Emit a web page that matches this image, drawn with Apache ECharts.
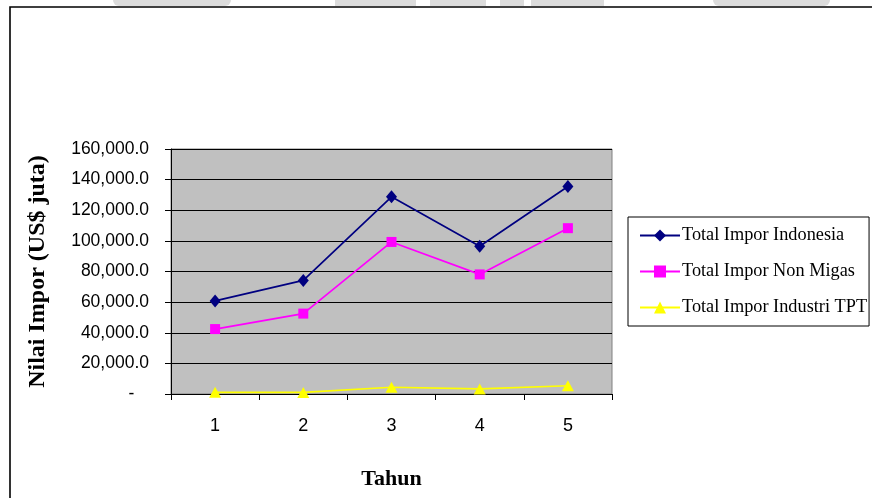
<!DOCTYPE html>
<html>
<head>
<meta charset="utf-8">
<script src="https://cdn.jsdelivr.net/npm/echarts@6/dist/echarts.min.js"></script>
<style>
  html, body { margin: 0; padding: 0; background: #ffffff; }
  #chart { width: 872px; height: 498px; }
</style>
</head>
<body>
<div id="chart"></div>
<script>
// Tahun (year index) and import values in US$ juta
const years = ['1', '2', '3', '4', '5'];
const seriesNames = ['Total Impor Indonesia', 'Total Impor Non Migas', 'Total Impor Industri TPT'];
const imporIndonesia = [60800, 74200, 128800, 96500, 135500];
const imporNonMigas = [42400, 52500, 99300, 78100, 108300];
const imporTPT = [1100, 1000, 4400, 3300, 5400];
const yTicks = { min: 0, max: 160000, step: 20000 };

const serif = '"Liberation Serif", "Times New Roman", serif';
const sans = '"Liberation Sans", Arial, sans-serif';

function fmtValue(v) {
  if (v === 0) return '-   ';
  return v.toLocaleString('en-US', { minimumFractionDigits: 1, maximumFractionDigits: 1 });
}

const chart = echarts.init(document.getElementById('chart'), null, { renderer: 'canvas' });

const lineSeries = (name, data, color, symbol, size) => ({
  name: name,
  type: 'line',
  data: data,
  symbol: symbol,
  symbolSize: size,
  showAllSymbol: true,
  lineStyle: { color: color, width: 1.7 },
  itemStyle: { color: color },
  emphasis: { disabled: true },
  animation: false,
  z: 3
});

chart.setOption({
  backgroundColor: '#ffffff',
  animation: false,
  graphic: [
    // faint letterhead marks along the top edge
    { type: 'rect', shape: { x: 113, y: 0, width: 118, height: 6, r: [0, 0, 6, 6] }, style: { fill: '#dcdcdc' }, silent: true },
    { type: 'rect', shape: { x: 335, y: 0, width: 81, height: 6 }, style: { fill: '#dcdcdc' }, silent: true },
    { type: 'rect', shape: { x: 430, y: 0, width: 56, height: 6 }, style: { fill: '#dcdcdc' }, silent: true },
    { type: 'rect', shape: { x: 500, y: 0, width: 24, height: 6 }, style: { fill: '#dcdcdc' }, silent: true },
    { type: 'rect', shape: { x: 531, y: 0, width: 73, height: 6 }, style: { fill: '#dcdcdc' }, silent: true },
    { type: 'rect', shape: { x: 713, y: 0, width: 117, height: 6, r: [0, 0, 6, 6] }, style: { fill: '#dcdcdc' }, silent: true },
    // chart frame
    { type: 'rect', shape: { x: 10, y: 7, width: 900, height: 600 }, style: { fill: 'none', stroke: '#000000', lineWidth: 1.6 }, silent: true }
  ],
  grid: {
    left: 171, top: 149, right: 260, bottom: 104,
    show: true,
    backgroundColor: '#c0c0c0',
    borderColor: '#808080',
    borderWidth: 1
  },
  legend: {
    data: seriesNames,
    orient: 'vertical',
    left: 628,
    top: 217,
    padding: [8, 2, 8, 11],
    itemGap: 15,
    itemWidth: 40,
    itemHeight: 15,
    borderColor: '#000000',
    borderWidth: 1,
    backgroundColor: '#ffffff',
    selectedMode: false,
    textStyle: { fontFamily: serif, fontSize: 18.3, color: '#000000', lineHeight: 21, padding: [0, 0, 0, -3] }
  },
  xAxis: {
    type: 'category',
    data: years,
    boundaryGap: true,
    name: 'Tahun',
    nameLocation: 'middle',
    nameGap: 74,
    nameTextStyle: { fontFamily: serif, fontSize: 22, fontWeight: 'bold', color: '#000000' },
    axisLine: { lineStyle: { color: '#000000', width: 1 } },
    axisTick: { show: true, length: 6, inside: false, alignWithLabel: false, lineStyle: { color: '#000000' } },
    axisLabel: { fontFamily: sans, fontSize: 18, color: '#000000', margin: 23 },
    splitLine: { show: false }
  },
  yAxis: {
    type: 'value',
    min: yTicks.min,
    max: yTicks.max,
    interval: yTicks.step,
    name: 'Nilai Impor (US$ juta)',
    nameLocation: 'middle',
    nameRotate: 90,
    nameGap: 121,
    nameTextStyle: { fontFamily: serif, fontSize: 24, fontWeight: 'bold', color: '#000000' },
    axisLine: { show: true, lineStyle: { color: '#000000', width: 1 } },
    axisTick: { show: true, length: 6, inside: false, lineStyle: { color: '#000000' } },
    axisLabel: { fontFamily: sans, fontSize: 17.5, color: '#000000', margin: 22, formatter: fmtValue },
    splitLine: { show: true, lineStyle: { color: '#000000', width: 1 } }
  },
  series: [
    lineSeries(seriesNames[0], imporIndonesia, '#000080', 'diamond', [11, 13]),
    lineSeries(seriesNames[1], imporNonMigas, '#ff00ff', 'rect', 10),
    lineSeries(seriesNames[2], imporTPT, '#ffff00', 'triangle', [12, 11])
  ]
});
</script>
</body>
</html>
